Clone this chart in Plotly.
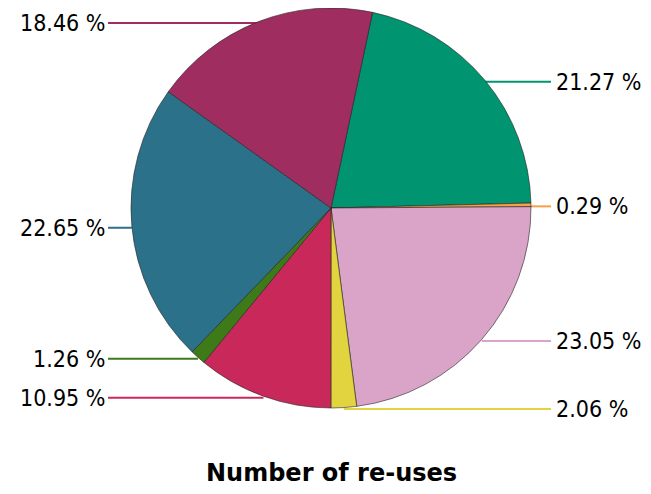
import math
import plotly.graph_objects as go

# Data (clockwise from ~12 o'clock)
categories = ["A", "B", "C", "D", "E", "F", "G", "H"]
values = [21.27, 0.29, 23.05, 2.06, 10.95, 1.26, 22.65, 18.46]
colors = ["#009471", "#F5A04A", "#D9A4C8", "#E2D43E", "#C8285A", "#3E7A18", "#2A7189", "#A02D60"]
title_text = "Number of re-uses"

OFF = 8  # page body margin
W, H = 651 - OFF, 494 - 2 * OFF
R = 200
CX, CY = 331 - OFF, R
ROT = 12.0
LEFT_END, RIGHT_END = 108 - OFF, 551 - OFF

fig = go.Figure(go.Pie(
    labels=categories, values=values, sort=False, direction="clockwise",
    rotation=ROT, textinfo="none", hoverinfo="label+percent",
    marker=dict(colors=colors, line=dict(color="#222222", width=0.6)),
    domain=dict(x=[(CX - R) / W, (CX + R) / W], y=[1 - (CY + R) / H, 1.0]),
    showlegend=False,
))

total = sum(values)
shapes, annotations = [], []
acc = 0.0
for v, c in zip(values, colors):
    mid = ROT + (acc + v / 2) / total * 360.0
    acc += v
    a = math.radians(mid)
    px = CX + R * math.sin(a)
    py = CY - R * math.cos(a)
    right = px >= CX
    xend = RIGHT_END if right else LEFT_END
    ly = py + 1.5
    shapes.append(dict(type="line", xref="paper", yref="paper",
                       x0=px / W, y0=1 - ly / H, x1=xend / W, y1=1 - ly / H,
                       line=dict(color=c, width=2), layer="below"))
    annotations.append(dict(
        x=(xend + (3 if right else -1)) / W, y=1 - ly / H, xref="paper", yref="paper",
        text=f"{v:.2f} %", showarrow=False,
        xanchor="left" if right else "right", yanchor="middle",
        font=dict(family="DejaVu Sans Condensed, DejaVu Sans", size=23, color="#000000")))

annotations.append(dict(x=CX / W, y=0, xref="paper", yref="paper",
                        text=f"<b>{title_text}</b>", showarrow=False,
                        xanchor="center", yanchor="bottom", yshift=-3,
                        font=dict(family="DejaVu Sans", size=24, color="#000000")))

fig.update_layout(width=W, height=H, margin=dict(l=0, r=0, t=0, b=0),
                  paper_bgcolor="white", plot_bgcolor="white",
                  shapes=shapes, annotations=annotations)
fig.write_html("out.html")
